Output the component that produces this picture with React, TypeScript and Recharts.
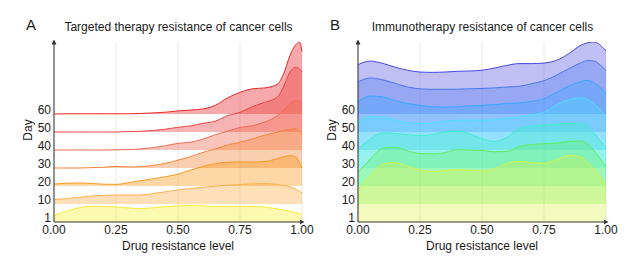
import React from 'react';
import { ComposedChart, Area, XAxis, YAxis, CartesianGrid } from 'recharts';

// density sampled along drug resistance level
const X_POS = [0, 0.05, 0.1, 0.15, 0.2, 0.25, 0.3, 0.35, 0.4, 0.45, 0.5, 0.55, 0.6, 0.65, 0.7, 0.75, 0.8, 0.85, 0.9, 0.925, 0.95, 0.975, 0.99, 1.0];
const DAYS = ['1', '10', '20', '30', '40', '50', '60'];
const X_TICKS = [0, 0.25, 0.5, 0.75, 1];

// A: targeted therapy
const TT_DAY1 = [0.37, 0.6, 0.79, 0.87, 0.87, 0.83, 0.78, 0.74, 0.79, 0.85, 0.89, 0.93, 0.9, 0.87, 0.87, 0.87, 0.87, 0.83, 0.73, 0.67, 0.6, 0.52, 0.47, 0.43];
const TT_DAY10 = [0.24, 0.3, 0.37, 0.44, 0.48, 0.5, 0.5, 0.5, 0.58, 0.68, 0.78, 0.86, 0.93, 0.99, 1.04, 1.08, 1.12, 1.13, 1.08, 1.03, 0.96, 0.82, 0.7, 0.6];
const TT_DAY20 = [0.11, 0.15, 0.17, 0.14, 0.1, 0.09, 0.18, 0.3, 0.4, 0.52, 0.66, 0.88, 1.08, 1.24, 1.32, 1.34, 1.33, 1.36, 1.52, 1.62, 1.69, 1.6, 1.3, 1.0];
const TT_DAY30 = [0, 0, 0, 0.02, 0.04, 0.09, 0.06, 0.07, 0.15, 0.26, 0.44, 0.63, 0.87, 1.06, 1.28, 1.43, 1.61, 1.83, 1.98, 2.08, 2.15, 2.18, 2.05, 1.85];
const TT_DAY40 = [0, 0, 0, 0, 0, 0.01, 0.02, 0.06, 0.13, 0.24, 0.37, 0.43, 0.6, 0.85, 1.05, 1.25, 1.35, 1.55, 1.9, 2.2, 2.55, 2.76, 2.72, 2.6];
const TT_DAY50 = [0, 0, 0, 0, 0, 0, 0.02, 0.04, 0.08, 0.16, 0.26, 0.34, 0.48, 0.6, 0.91, 1.09, 1.41, 1.65, 1.93, 2.5, 3.3, 3.6, 3.5, 3.35];
const TT_DAY60 = [0, 0.01, 0.01, 0.01, 0.01, 0.01, 0.01, 0.03, 0.06, 0.1, 0.17, 0.22, 0.28, 0.48, 0.9, 1.2, 1.4, 1.45, 1.65, 2.2, 3.2, 3.85, 3.98, 3.47];

// B: immunotherapy
const IT_DAY1 = [1.75, 2.6, 3.2, 3.3, 3.1, 2.9, 2.8, 2.85, 2.9, 2.88, 2.83, 2.95, 3.25, 3.36, 3.3, 3.26, 3.45, 3.7, 3.6, 3.3, 3.0, 2.55, 2.25, 2.06];
const IT_DAY10 = [1.75, 2.5, 3.1, 3.15, 2.95, 2.8, 2.78, 2.85, 3.02, 3.0, 2.97, 2.9, 2.92, 3.2, 3.3, 3.35, 3.38, 3.48, 3.5, 3.35, 3.0, 2.55, 2.25, 2.06];
const IT_DAY20 = [2.05, 2.6, 2.95, 2.92, 2.85, 2.8, 2.85, 3.0, 3.05, 2.9, 2.62, 2.47, 2.7, 3.18, 3.32, 3.38, 3.43, 3.48, 3.43, 3.3, 2.95, 2.55, 2.25, 2.09];
const IT_DAY30 = [2.56, 2.85, 2.8, 2.65, 2.52, 2.46, 2.5, 2.6, 2.65, 2.66, 2.65, 2.68, 2.75, 2.83, 2.95, 3.1, 3.5, 3.78, 3.89, 3.8, 3.6, 3.25, 3.0, 2.83];
const IT_DAY40 = [2.67, 3.0, 2.95, 2.75, 2.58, 2.48, 2.4, 2.38, 2.4, 2.45, 2.48, 2.52, 2.58, 2.62, 2.7, 2.85, 3.2, 3.55, 3.8, 3.87, 3.75, 3.5, 3.3, 3.13];
const IT_DAY50 = [2.78, 3.0, 2.9, 2.7, 2.5, 2.4, 2.37, 2.37, 2.38, 2.4, 2.42, 2.45, 2.5, 2.54, 2.68, 2.85, 3.15, 3.52, 3.85, 3.97, 3.95, 3.75, 3.55, 3.39];
const IT_DAY60 = [2.74, 2.94, 2.81, 2.6, 2.43, 2.33, 2.31, 2.33, 2.37, 2.39, 2.43, 2.55, 2.7, 2.8, 2.8, 2.83, 2.98, 3.35, 3.83, 3.95, 4.0, 3.85, 3.65, 3.52];

const TT_COLORS = ['#f5ee3a', '#fcb04a', '#fa9a1e', '#f7853a', '#f36b55', '#ee4444', '#e8282c'];
const IT_COLORS = ['#d8f040', '#5ef05a', '#3cf0c8', '#48e0ff', '#38a8ff', '#4a78f0', '#4646e6'];

const FONT = '"Liberation Sans", Arial, sans-serif';
const TEXT = '#1a1a1a';

const buildRows = (series: number[][]) =>
  X_POS.map((x, i) => {
    const row: any = { x };
    series.forEach((s, k) => {
      row['r' + k] = k + s[i];
    });
    return row;
  });

const YTick = ({ x, y, payload }: any) => (
  <text x={x} y={y - 0.5} textAnchor="end" fontSize={12} fill={TEXT} fontFamily={FONT}>
    {DAYS[payload.value]}
  </text>
);

const XTick = ({ x, y, payload }: any) => (
  <text x={x} y={y + 12} textAnchor="middle" fontSize={12} fill={TEXT} fontFamily={FONT}>
    {payload.value.toFixed(2)}
  </text>
);

const RidgePanel = ({ letter, title, series, colors, left, opacity }: any) => {
  const rows = buildRows(series);
  const order = [6, 5, 4, 3, 2, 1, 0];
  return (
    <div style={{ position: 'absolute', left, top: 0, width: 320, height: 265 }}>
      <ComposedChart width={320} height={265} data={rows} margin={{ top: 42, right: 18, bottom: 23, left: 24 }}>
        <CartesianGrid horizontal={false} stroke="#e8e8e8" />
        <XAxis
          dataKey="x"
          type="number"
          domain={[0, 1]}
          ticks={X_TICKS}
          interval={0}
          height={20}
          tickSize={0}
          tickMargin={0}
          tick={<XTick />}
          axisLine={{ stroke: '#333', markerEnd: 'url(#axisArrow)' }}
          tickLine={false}
        />
        <YAxis
          type="number"
          domain={[0, 10]}
          ticks={[0, 1, 2, 3, 4, 5, 6]}
          interval={0}
          width={30}
          tickSize={0}
          tickMargin={3}
          tick={<YTick />}
          axisLine={{ stroke: '#333', markerStart: 'url(#axisArrow)' }}
          tickLine={false}
          allowDataOverflow
        />
        {order.map((k) => (
          <Area
            key={k}
            type="monotone"
            dataKey={'r' + k}
            baseValue={k}
            stroke={colors[k]}
            strokeWidth={1}
            fill={colors[k]}
            fillOpacity={opacity}
            isAnimationActive={false}
            dot={false}
            activeDot={false}
          />
        ))}
      </ComposedChart>
      <svg width={320} height={265} style={{ position: 'absolute', left: 0, top: 0, pointerEvents: 'none' }}>
        <text x={26} y={30} fontSize={15} fill={TEXT} fontFamily={FONT}>{letter}</text>
        <text x={178.5} y={31} fontSize={12} textAnchor="middle" fill={TEXT} fontFamily={FONT}>{title}</text>
        <text x={178} y={250} fontSize={12} textAnchor="middle" fill={TEXT} fontFamily={FONT}>Drug resistance level</text>
        <text transform="translate(31.5,130) rotate(-90)" fontSize={12} textAnchor="middle" fill={TEXT} fontFamily={FONT}>Day</text>
      </svg>
    </div>
  );
};

export default function App() {
  return (
    <div style={{ position: 'absolute', left: 0, top: 0, width: 638, height: 265, background: '#fff', fontFamily: FONT }}>
      <svg width={0} height={0} style={{ position: 'absolute' }}>
        <defs>
          <marker id="axisArrow" viewBox="0 0 10 10" refX="5" refY="5" markerWidth="5" markerHeight="5" orient="auto-start-reverse">
            <path d="M0,0 L10,5 L0,10 z" fill="#333" />
          </marker>
        </defs>
      </svg>
      <RidgePanel
        letter="A"
        title="Targeted therapy resistance of cancer cells"
        series={[TT_DAY1, TT_DAY10, TT_DAY20, TT_DAY30, TT_DAY40, TT_DAY50, TT_DAY60]}
        colors={TT_COLORS}
        opacity={0.4}
        left={0}
      />
      <RidgePanel
        letter="B"
        title="Immunotherapy resistance of cancer cells"
        series={[IT_DAY1, IT_DAY10, IT_DAY20, IT_DAY30, IT_DAY40, IT_DAY50, IT_DAY60]}
        colors={IT_COLORS}
        opacity={0.34}
        left={304}
      />
    </div>
  );
}
